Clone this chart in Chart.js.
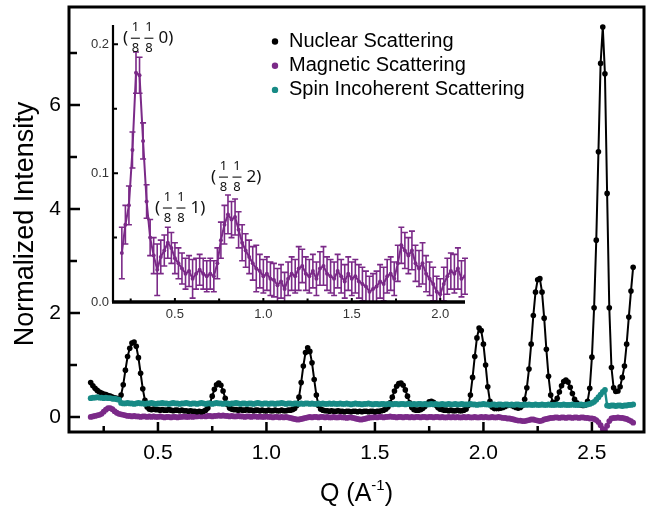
<!DOCTYPE html>
<html><head><meta charset="utf-8">
<script src="https://cdn.jsdelivr.net/npm/chart.js@4.4.1/dist/chart.umd.min.js"></script>
<style>
html,body{margin:0;padding:0;background:#fff;}
#wrap{position:relative;width:648px;height:515px;overflow:hidden;}
canvas{position:absolute;left:0;top:0;}
#inset{pointer-events:none;}
</style></head><body>
<div id="wrap"><canvas id="main" width="648" height="515"></canvas><canvas id="inset" width="648" height="515"></canvas></div>
<script>
// ---------- DATA ----------
const seriesNames = ['Nuclear Scattering', 'Magnetic Scattering', 'Spin Incoherent Scattering'];

const qMain = [
0.19,0.20,0.21,0.22,0.23,0.24,0.25,0.26,0.27,0.28,
0.29,0.30,0.31,0.32,0.33,0.34,0.35,0.36,0.37,0.38,
0.39,0.40,0.41,0.42,0.43,0.44,0.45,0.46,0.47,0.48,
0.49,0.50,0.51,0.52,0.53,0.54,0.55,0.56,0.57,0.58,
0.59,0.60,0.61,0.62,0.63,0.64,0.65,0.66,0.67,0.68,
0.69,0.70,0.71,0.72,0.73,0.74,0.75,0.76,0.77,0.78,
0.79,0.80,0.81,0.82,0.83,0.84,0.85,0.86,0.87,0.88,
0.89,0.90,0.91,0.92,0.93,0.94,0.95,0.96,0.97,0.98,
0.99,1.00,1.01,1.02,1.03,1.04,1.05,1.06,1.07,1.08,
1.09,1.10,1.11,1.12,1.13,1.14,1.15,1.16,1.17,1.18,
1.19,1.20,1.21,1.22,1.23,1.24,1.25,1.26,1.27,1.28,
1.29,1.30,1.31,1.32,1.33,1.34,1.35,1.36,1.37,1.38,
1.39,1.40,1.41,1.42,1.43,1.44,1.45,1.46,1.47,1.48,
1.49,1.50,1.51,1.52,1.53,1.54,1.55,1.56,1.57,1.58,
1.59,1.60,1.61,1.62,1.63,1.64,1.65,1.66,1.67,1.68,
1.69,1.70,1.71,1.72,1.73,1.74,1.75,1.76,1.77,1.78,
1.79,1.80,1.81,1.82,1.83,1.84,1.85,1.86,1.87,1.88,
1.89,1.90,1.91,1.92,1.93,1.94,1.95,1.96,1.97,1.98,
1.99,2.00,2.01,2.02,2.03,2.04,2.05,2.06,2.07,2.08,
2.09,2.10,2.11,2.12,2.13,2.14,2.15,2.16,2.17,2.18,
2.19,2.20,2.21,2.22,2.23,2.24,2.25,2.26,2.27,2.28,
2.29,2.30,2.31,2.32,2.33,2.34,2.35,2.36,2.37,2.38,
2.39,2.40,2.41,2.42,2.43,2.44,2.45,2.46,2.47,2.48,
2.49,2.50,2.51,2.52,2.53,2.54,2.55,2.56,2.57,2.58,
2.59,2.60,2.61,2.62,2.63,2.64,2.65,2.66,2.67,2.68,
2.69];

const nuclear = [
0.66,0.60,0.55,0.51,0.48,0.46,0.44,0.43,0.41,0.40,
0.38,0.37,0.36,0.35,0.42,0.62,0.90,1.16,1.32,1.42,
1.44,1.36,1.14,0.84,0.54,0.32,0.19,0.15,0.14,0.15,
0.14,0.14,0.13,0.14,0.13,0.13,0.14,0.13,0.12,0.13,
0.13,0.12,0.13,0.12,0.12,0.11,0.12,0.11,0.11,0.10,
0.11,0.10,0.11,0.13,0.17,0.26,0.40,0.53,0.62,0.65,
0.61,0.50,0.36,0.24,0.17,0.15,0.14,0.14,0.13,0.14,
0.13,0.13,0.14,0.13,0.13,0.12,0.13,0.13,0.12,0.13,
0.12,0.12,0.13,0.12,0.12,0.13,0.12,0.12,0.13,0.12,
0.12,0.13,0.13,0.14,0.16,0.22,0.38,0.66,0.98,1.24,
1.33,1.26,1.04,0.72,0.42,0.22,0.15,0.13,0.12,0.12,
0.11,0.12,0.11,0.11,0.12,0.11,0.11,0.10,0.11,0.11,
0.10,0.11,0.11,0.10,0.11,0.10,0.11,0.11,0.10,0.11,
0.11,0.10,0.11,0.11,0.12,0.13,0.15,0.19,0.27,0.38,
0.50,0.59,0.64,0.65,0.61,0.52,0.40,0.27,0.18,0.14,
0.13,0.13,0.14,0.16,0.20,0.25,0.29,0.30,0.28,0.23,
0.18,0.15,0.14,0.13,0.13,0.12,0.13,0.12,0.12,0.13,
0.12,0.12,0.13,0.15,0.22,0.42,0.76,1.16,1.52,1.71,
1.66,1.40,1.00,0.58,0.30,0.19,0.16,0.16,0.16,0.17,
0.18,0.20,0.22,0.23,0.22,0.20,0.18,0.17,0.18,0.22,
0.34,0.56,0.92,1.40,1.95,2.40,2.64,2.66,2.40,1.90,
1.30,0.78,0.42,0.28,0.28,0.36,0.48,0.60,0.68,0.71,
0.67,0.57,0.45,0.34,0.27,0.24,0.23,0.22,0.23,0.30,
0.55,1.15,2.10,3.40,5.10,6.80,7.50,6.60,4.30,2.10,
0.95,0.56,0.49,0.50,0.58,0.76,0.98,1.40,1.92,2.42,
2.88];

const magnetic = [
0.00,0.01,0.02,0.03,0.04,0.06,0.10,0.14,0.17,0.17,
0.15,0.11,0.08,0.06,0.05,0.04,0.03,0.02,0.02,0.01,
0.02,0.01,0.01,0.00,0.01,0.01,0.00,0.01,0.00,0.01,
0.00,0.00,0.01,0.00,-0.01,0.00,0.00,-0.01,0.00,0.00,
-0.01,0.00,0.00,0.01,0.00,0.00,0.01,0.00,0.01,0.01,
0.02,0.01,0.02,0.01,0.02,0.02,0.01,0.02,0.02,0.03,
0.02,0.03,0.02,0.02,0.01,0.02,0.01,0.01,0.02,0.01,
0.01,0.00,0.01,0.01,0.00,0.01,0.01,0.00,0.01,0.00,
0.00,0.01,0.00,0.00,-0.01,0.00,0.00,-0.01,0.00,-0.01,
0.00,-0.01,-0.02,-0.03,-0.04,-0.05,-0.05,-0.04,-0.03,-0.02,
-0.01,0.00,-0.01,0.00,0.00,-0.01,0.00,0.00,-0.01,0.00,
-0.01,-0.01,0.00,-0.01,-0.01,0.00,-0.01,-0.01,-0.02,-0.01,
-0.01,-0.02,-0.03,-0.04,-0.05,-0.05,-0.04,-0.03,-0.02,-0.01,
-0.01,0.00,-0.01,0.00,0.00,-0.01,0.00,0.00,0.01,0.00,
0.00,-0.01,0.00,0.00,-0.01,0.00,0.00,-0.01,0.00,-0.01,
0.00,0.00,-0.01,0.00,0.00,-0.01,0.00,0.00,-0.01,0.00,
0.00,-0.01,0.00,-0.01,-0.01,0.00,-0.01,0.00,-0.01,0.00,
-0.01,-0.01,0.00,-0.01,0.00,-0.01,-0.01,0.00,-0.01,-0.01,
0.00,-0.01,0.00,-0.01,-0.01,0.00,-0.01,-0.01,0.00,-0.01,
-0.02,-0.02,-0.03,-0.03,-0.04,-0.05,-0.06,-0.07,-0.07,-0.08,
-0.08,-0.07,-0.06,-0.05,-0.05,-0.06,-0.07,-0.08,-0.07,-0.05,
-0.04,-0.03,-0.02,-0.02,-0.01,-0.01,-0.02,-0.01,-0.01,-0.02,
-0.01,-0.01,-0.02,-0.01,-0.01,-0.02,-0.01,-0.01,-0.02,-0.02,
-0.03,-0.03,-0.04,-0.06,-0.10,-0.16,-0.23,-0.25,-0.17,-0.08,
-0.03,-0.02,-0.02,-0.01,-0.02,-0.02,-0.03,-0.04,-0.06,-0.08,
-0.11];

const spinIncoherent = [
0.36,0.37,0.37,0.38,0.37,0.37,0.36,0.37,0.36,0.36,
0.35,0.35,0.34,0.33,0.27,0.26,0.26,0.27,0.26,0.26,
0.25,0.26,0.27,0.26,0.26,0.25,0.26,0.26,0.27,0.26,
0.25,0.26,0.26,0.27,0.26,0.26,0.25,0.26,0.27,0.26,
0.26,0.25,0.26,0.26,0.27,0.26,0.25,0.26,0.26,0.25,
0.26,0.27,0.26,0.25,0.26,0.26,0.25,0.26,0.27,0.26,
0.26,0.25,0.26,0.26,0.25,0.26,0.26,0.27,0.26,0.25,
0.26,0.26,0.25,0.26,0.26,0.25,0.26,0.27,0.26,0.25,
0.26,0.26,0.25,0.26,0.26,0.25,0.26,0.26,0.27,0.26,
0.25,0.26,0.26,0.25,0.26,0.26,0.25,0.26,0.25,0.26,
0.26,0.25,0.26,0.25,0.25,0.26,0.25,0.26,0.25,0.25,
0.26,0.25,0.26,0.25,0.25,0.26,0.25,0.25,0.26,0.25,
0.24,0.25,0.26,0.25,0.25,0.24,0.25,0.25,0.26,0.25,
0.24,0.25,0.25,0.24,0.25,0.25,0.24,0.25,0.25,0.24,
0.25,0.25,0.24,0.25,0.25,0.24,0.25,0.25,0.24,0.25,
0.24,0.25,0.25,0.24,0.25,0.24,0.24,0.25,0.24,0.25,
0.24,0.24,0.25,0.24,0.24,0.25,0.24,0.24,0.25,0.24,
0.24,0.25,0.24,0.24,0.24,0.25,0.24,0.24,0.23,0.24,
0.24,0.25,0.24,0.24,0.23,0.24,0.24,0.23,0.24,0.24,
0.23,0.24,0.24,0.23,0.24,0.23,0.24,0.24,0.23,0.23,
0.24,0.23,0.24,0.23,0.23,0.24,0.23,0.23,0.24,0.23,
0.23,0.24,0.23,0.23,0.23,0.24,0.23,0.23,0.24,0.23,
0.23,0.23,0.24,0.23,0.23,0.23,0.24,0.23,0.23,0.24,
0.25,0.27,0.29,0.33,0.38,0.43,0.48,0.52,0.22,0.21,
0.22,0.22,0.21,0.22,0.22,0.21,0.22,0.22,0.23,0.23,
0.24];

// inset: magnetic scattering with error bars
const qInset = [
0.20,0.22,0.24,0.26,0.28,0.30,0.32,0.34,0.36,0.38,
0.40,0.42,0.44,0.46,0.48,0.50,0.52,0.54,0.56,0.58,
0.60,0.62,0.64,0.66,0.68,0.70,0.72,0.74,0.76,0.78,
0.80,0.82,0.84,0.86,0.88,0.90,0.92,0.94,0.96,0.98,
1.00,1.02,1.04,1.06,1.08,1.10,1.12,1.14,1.16,1.18,
1.20,1.22,1.24,1.26,1.28,1.30,1.32,1.34,1.36,1.38,
1.40,1.42,1.44,1.46,1.48,1.50,1.52,1.54,1.56,1.58,
1.60,1.62,1.64,1.66,1.68,1.70,1.72,1.74,1.76,1.78,
1.80,1.82,1.84,1.86,1.88,1.90,1.92,1.94,1.96,1.98,
2.00,2.02,2.04,2.06,2.08,2.10,2.12,2.14];

const magInset = [
0.038,0.060,0.075,0.118,0.178,0.176,0.125,0.078,0.050,0.036,
0.025,0.035,0.040,0.046,0.042,0.034,0.030,0.026,0.022,0.024,
0.018,0.022,0.025,0.022,0.020,0.022,0.020,0.030,0.048,0.060,
0.068,0.064,0.066,0.056,0.046,0.040,0.035,0.030,0.026,0.024,
0.020,0.022,0.018,0.017,0.013,0.016,0.010,0.018,0.022,0.020,
0.026,0.028,0.022,0.020,0.024,0.018,0.026,0.028,0.022,0.020,
0.018,0.024,0.020,0.016,0.022,0.018,0.020,0.016,0.014,0.012,
0.008,0.010,0.012,0.016,0.014,0.020,0.022,0.018,0.030,0.044,
0.040,0.036,0.040,0.030,0.026,0.030,0.022,0.018,0.014,0.008,
0.006,0.014,0.020,0.024,0.022,0.026,0.018,0.020];

const magInsetErr = [
0.020,0.015,0.015,0.014,0.016,0.014,0.014,0.013,0.014,0.014,
0.020,0.013,0.012,0.012,0.012,0.012,0.012,0.012,0.012,0.012,
0.015,0.012,0.012,0.012,0.012,0.012,0.012,0.012,0.014,0.015,
0.015,0.014,0.014,0.014,0.014,0.013,0.013,0.013,0.018,0.013,
0.013,0.013,0.013,0.013,0.013,0.013,0.013,0.013,0.013,0.013,
0.017,0.013,0.013,0.013,0.013,0.013,0.013,0.015,0.013,0.013,
0.013,0.013,0.013,0.013,0.013,0.013,0.013,0.013,0.013,0.012,
0.012,0.012,0.012,0.013,0.013,0.013,0.013,0.013,0.014,0.014,
0.014,0.014,0.015,0.014,0.014,0.016,0.014,0.013,0.013,0.012,
0.012,0.013,0.014,0.014,0.015,0.016,0.014,0.014];

// tick labels
const xTicksMain = [0.5, 1.0, 1.5, 2.0, 2.5];
const xMinorMain = [0.25, 0.75, 1.25, 1.75, 2.25];
const yTicksMain = [0, 2, 4, 6];
const yMinorMain = [1, 3, 5, 7];
const xTicksInset = [0.5, 1.0, 1.5, 2.0];
const xMinorInset = [0.25, 0.75, 1.25, 1.75];
const yTicksInset = [0.0, 0.1, 0.2];
const yMinorInset = [0.05, 0.15];

// reflection labels (h k l) = (1/8 1/8 l), anchored in inset data coordinates
const hklL = ['0', '1', '2'];
const hklQ = [0.206, 0.387, 0.704];
const hklI = [0.2047, 0.0729, 0.0969];

// ---------- CHECKS ----------
[[nuclear,'nuclear'],[magnetic,'magnetic'],[spinIncoherent,'spin']].forEach(([a,n])=>{ if(a.length!==qMain.length) throw new Error(n+' length '+a.length+' vs '+qMain.length); });
if (magInset.length!==qInset.length || magInsetErr.length!==qInset.length) throw new Error('inset lengths '+qInset.length+' '+magInset.length+' '+magInsetErr.length);

// ---------- STYLE ----------
const FONT = '"Liberation Sans", Arial, Helvetica, sans-serif';
const BLACK = '#000000';
const PURPLE = '#7B2A88';
const TEAL = '#178A85';

const pts = (xs, ys) => xs.map((q, i) => ({x: q, y: ys[i]}));
const noPad = s => { s.paddingTop = 0; s.paddingBottom = 0; s.paddingLeft = 0; s.paddingRight = 0; };

function drawTicks(ctx, a, sx, sy, spec) {
  ctx.save();
  ctx.strokeStyle = '#000';
  ctx.lineWidth = spec.w;
  ctx.beginPath();
  spec.xMaj.forEach(v => { const p = sx.getPixelForValue(v); ctx.moveTo(p, a.bottom); ctx.lineTo(p, a.bottom - spec.xMajLen); });
  spec.xMin.forEach(v => { const p = sx.getPixelForValue(v); ctx.moveTo(p, a.bottom); ctx.lineTo(p, a.bottom - spec.xMinLen); });
  spec.yMaj.forEach(v => { const p = sy.getPixelForValue(v); ctx.moveTo(a.left, p); ctx.lineTo(a.left + spec.yMajLen, p); });
  spec.yMin.forEach(v => { const p = sy.getPixelForValue(v); ctx.moveTo(a.left, p); ctx.lineTo(a.left + spec.yMinLen, p); });
  ctx.stroke();
  ctx.restore();
}

const mainDecor = {
  id: 'mainDecor',
  beforeDraw(chart) {
    const ctx = chart.ctx;
    ctx.save(); ctx.fillStyle = '#fff'; ctx.fillRect(0, 0, chart.width, chart.height); ctx.restore();
  },
  afterDraw(chart) {
    const {ctx, chartArea: a, scales: {x, y}} = chart;
    drawTicks(ctx, a, x, y, {w: 2.5, xMaj: xTicksMain, xMin: xMinorMain, yMaj: yTicksMain, yMin: yMinorMain,
      xMajLen: 10, xMinLen: 6, yMajLen: 11, yMinLen: 8});
    ctx.save();
    ctx.strokeStyle = '#000'; ctx.lineWidth = 3;
    ctx.strokeRect(a.left, a.top, a.right - a.left, a.bottom - a.top);
    // y title
    ctx.fillStyle = '#000';
    ctx.save();
    ctx.translate(33, 224);
    ctx.rotate(-Math.PI / 2);
    ctx.font = '27px ' + FONT; ctx.textAlign = 'center'; ctx.textBaseline = 'alphabetic';
    ctx.fillText('Normalized Intensity', 0, 0);
    ctx.restore();
    // x title with superscript
    const big = '25px ' + FONT, sup = '15px ' + FONT;
    ctx.font = big; const w1 = ctx.measureText('Q (A').width, w3 = ctx.measureText(')').width;
    ctx.font = sup; const w2 = ctx.measureText('-1').width;
    let cx = (a.left + a.right) / 2 - (w1 + w2 + w3) / 2;
    const base = 501;
    ctx.textAlign = 'left'; ctx.textBaseline = 'alphabetic';
    ctx.font = big; ctx.fillText('Q (A', cx, base); cx += w1;
    ctx.font = sup; ctx.fillText('-1', cx, base - 11); cx += w2;
    ctx.font = big; ctx.fillText(')', cx, base);
    // legend
    const cols = [BLACK, PURPLE, TEAL];
    ctx.font = '20px ' + FONT;
    seriesNames.forEach((n, i) => {
      const yy = 41.5 + i * 24.2;
      ctx.fillStyle = cols[i];
      ctx.beginPath(); ctx.arc(275, yy, 3.2, 0, Math.PI * 2); ctx.fill();
      ctx.fillStyle = '#000';
      ctx.textBaseline = 'alphabetic';
      ctx.fillText(n, 289, yy + 5.5);
    });
    ctx.restore();
  }
};

new Chart(document.getElementById('main'), {
  type: 'line',
  data: {
    datasets: [
      {label: seriesNames[0], data: pts(qMain, nuclear), borderColor: BLACK, backgroundColor: BLACK,
       borderWidth: 2, pointRadius: 2.8, pointBorderWidth: 0, pointBackgroundColor: BLACK, order: 1},
      {label: seriesNames[1], data: pts(qMain, magnetic), borderColor: PURPLE, backgroundColor: PURPLE,
       borderWidth: 2.4, pointRadius: 2.9, pointBorderWidth: 0, pointBackgroundColor: PURPLE, order: 2},
      {label: seriesNames[2], data: pts(qMain, spinIncoherent), borderColor: TEAL, backgroundColor: TEAL,
       borderWidth: 2.4, pointRadius: 2.9, pointBorderWidth: 0, pointBackgroundColor: TEAL, order: 0}
    ]
  },
  options: {
    responsive: false, animation: false, devicePixelRatio: 1,
    layout: {padding: {top: 7, right: 1.5, left: 0, bottom: 0}},
    plugins: {legend: {display: false}, tooltip: {enabled: false}},
    elements: {line: {tension: 0}},
    scales: {
      x: {type: 'linear', min: 0.09, max: 2.74,
          grid: {display: false, drawTicks: false}, border: {display: false},
          afterBuildTicks: s => { s.ticks = xTicksMain.map(v => ({value: v})); },
          afterFit: s => { s.height = 83; noPad(s); },
          ticks: {padding: 9, autoSkip: false, maxRotation: 0, color: '#000',
                  font: {size: 21, family: FONT}, callback: v => Number(v).toFixed(1)}},
      y: {type: 'linear', min: -0.29, max: 7.885,
          grid: {display: false, drawTicks: false}, border: {display: false},
          afterBuildTicks: s => { s.ticks = yTicksMain.map(v => ({value: v})); },
          afterFit: s => { s.width = 69; noPad(s); },
          ticks: {padding: 8, autoSkip: false, color: '#000',
                  font: {size: 21, family: FONT}, callback: v => String(v)}}
    }
  },
  plugins: [mainDecor]
});

// ---------- INSET ----------
const insetDecor = {
  id: 'insetDecor',
  afterDatasetsDraw(chart) {
    const {ctx, chartArea: a, scales: {x, y}} = chart;
    ctx.save();
    ctx.beginPath(); ctx.rect(a.left, a.top - 4, a.right - a.left + 4, a.bottom - a.top + 4); ctx.clip();
    ctx.strokeStyle = PURPLE; ctx.lineWidth = 1.6;
    ctx.beginPath();
    qInset.forEach((q, i) => {
      const px = x.getPixelForValue(q);
      const yt = y.getPixelForValue(magInset[i] + magInsetErr[i]);
      const yb = y.getPixelForValue(magInset[i] - magInsetErr[i]);
      ctx.moveTo(px, yt); ctx.lineTo(px, yb);
      ctx.moveTo(px - 3, yt); ctx.lineTo(px + 3, yt);
      ctx.moveTo(px - 3, yb); ctx.lineTo(px + 3, yb);
    });
    ctx.stroke();
    ctx.restore();
  },
  afterDraw(chart) {
    const {ctx, chartArea: a, scales: {x, y}} = chart;
    ctx.save();
    ctx.strokeStyle = '#000';
    ctx.lineWidth = 2.2;
    ctx.beginPath(); ctx.moveTo(a.left, a.top); ctx.lineTo(a.left, a.bottom); ctx.stroke();
    ctx.lineWidth = 3.5;
    ctx.beginPath(); ctx.moveTo(a.left - 1, a.bottom); ctx.lineTo(a.right, a.bottom); ctx.stroke();
    ctx.restore();
    drawTicks(ctx, a, x, y, {w: 2, xMaj: xTicksInset, xMin: xMinorInset, yMaj: yTicksInset.filter(v => v > 0), yMin: yMinorInset,
      xMajLen: 4, xMinLen: 3.5, yMajLen: 5, yMinLen: 4});
    // reflection labels
    ctx.save();
    ctx.fillStyle = '#111';
    const NF = '"Noto Sans", "Open Sans", sans-serif';
    hklL.forEach((l, i) => {
      const x0 = x.getPixelForValue(hklQ[i]);
      const yc = y.getPixelForValue(hklI[i]);
      ctx.textBaseline = 'middle';
      ctx.textAlign = 'left';
      ctx.font = '17px ' + NF;
      ctx.fillText('(', x0, yc);
      let fx = x0 + 12.5;
      for (let k = 0; k < 2; k++) {
        ctx.font = '13px ' + NF; ctx.textAlign = 'center';
        ctx.fillText('1', fx, yc - 10.5);
        ctx.fillText('8', fx, yc + 10.5);
        ctx.fillRect(fx - 4.5, yc - 0.6, 9, 1.1);
        fx += 13.5;
      }
      ctx.font = '17px ' + NF; ctx.textAlign = 'left';
      ctx.fillText(l + ')', fx - 4, yc);
    });
    ctx.restore();
  }
};

new Chart(document.getElementById('inset'), {
  type: 'line',
  data: {
    datasets: [
      {label: seriesNames[1], data: pts(qInset, magInset), borderColor: PURPLE, backgroundColor: PURPLE,
       borderWidth: 2, pointRadius: 2, pointBorderWidth: 0, pointBackgroundColor: PURPLE}
    ]
  },
  options: {
    responsive: false, animation: false, devicePixelRatio: 1,
    layout: {padding: {top: 25, right: 183, left: 0, bottom: 0}},
    plugins: {legend: {display: false}, tooltip: {enabled: false}},
    elements: {line: {tension: 0}},
    scales: {
      x: {type: 'linear', min: 0.15, max: 2.14,
          grid: {display: false, drawTicks: false}, border: {display: false},
          afterBuildTicks: s => { s.ticks = xTicksInset.map(v => ({value: v})); },
          afterFit: s => { s.height = 213; noPad(s); },
          ticks: {padding: 5, autoSkip: false, maxRotation: 0, color: '#333',
                  font: {size: 13, family: FONT}, callback: v => Number(v).toFixed(1)}},
      y: {type: 'linear', min: 0, max: 0.215,
          grid: {display: false, drawTicks: false}, border: {display: false},
          afterBuildTicks: s => { s.ticks = yTicksInset.map(v => ({value: v})); },
          afterFit: s => { s.width = 113; noPad(s); },
          ticks: {padding: 4, autoSkip: false, color: '#333',
                  font: {size: 13, family: FONT}, callback: v => Number(v).toFixed(1)}}
    }
  },
  plugins: [insetDecor]
});
</script>
</body></html>
